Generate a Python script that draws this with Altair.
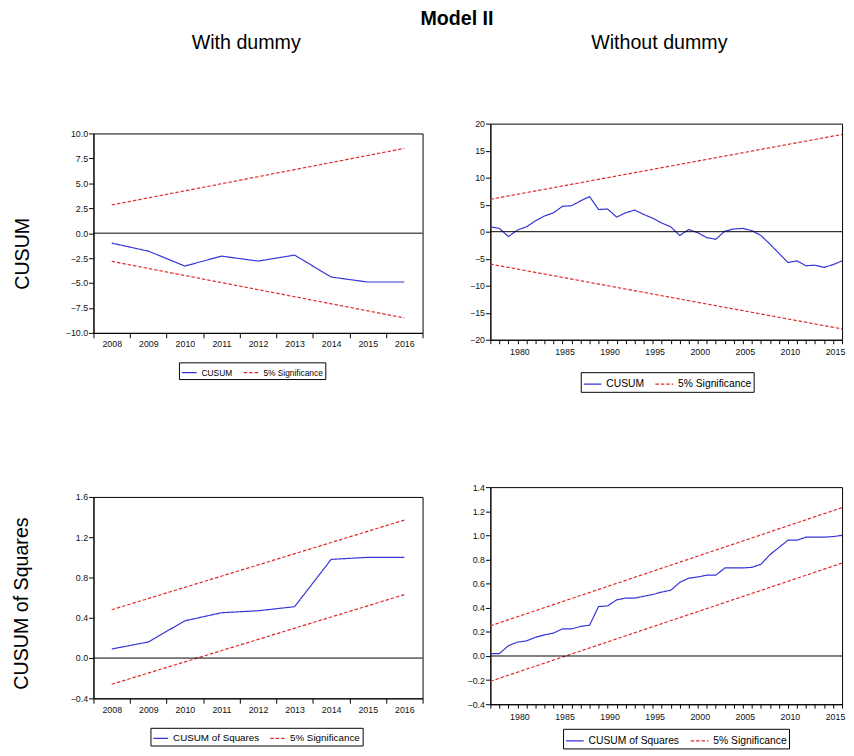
import altair as alt
import pandas as pd

# ---------------- data ----------------
# Top-left: CUSUM, with dummy (annual, 2008-2016)
tl_years = [2008, 2009, 2010, 2011, 2012, 2013, 2014, 2015, 2016]
tl_cusum = [-1.0, -1.8, -3.3, -2.3, -2.8, -2.2, -4.4, -4.9, -4.9]
tl_bound_years = [2008, 2016]
tl_upper = [2.83, 8.5]
tl_lower = [-2.83, -8.5]

# Top-right: CUSUM, without dummy (annual, 1977-2016)
tr_years = list(range(1977, 2017))
tr_cusum = [0.9, 0.6, -0.9, 0.3, 0.9, 2.0, 2.9, 3.5, 4.7, 4.8,
            5.7, 6.5, 4.1, 4.2, 2.7, 3.5, 4.0, 3.2, 2.5, 1.6,
            0.9, -0.7, 0.4, -0.2, -1.1, -1.4, 0.1, 0.5, 0.6, 0.2,
            -0.7, -2.3, -4.0, -5.7, -5.4, -6.3, -6.2, -6.6, -6.1, -5.4]
tr_bound_years = [1977, 2016]
tr_upper = [6.0, 18.0]
tr_lower = [-6.0, -18.0]

# Bottom-left: CUSUM of squares, with dummy
bl_years = [2008, 2009, 2010, 2011, 2012, 2013, 2014, 2015, 2016]
bl_cusumsq = [0.09, 0.16, 0.37, 0.45, 0.47, 0.51, 0.98, 1.0, 1.0]
bl_bound_years = [2008, 2016]
bl_upper = [0.48, 1.37]
bl_lower = [-0.26, 0.63]

# Bottom-right: CUSUM of squares, without dummy
br_years = list(range(1977, 2017))
br_cusumsq = [0.02, 0.02, 0.085, 0.115, 0.125, 0.155, 0.175, 0.19, 0.225, 0.225,
              0.245, 0.255, 0.41, 0.415, 0.465, 0.48, 0.48, 0.495, 0.51, 0.53,
              0.545, 0.61, 0.645, 0.655, 0.67, 0.67, 0.73, 0.73, 0.73, 0.735,
              0.76, 0.84, 0.90, 0.96, 0.96, 0.985, 0.985, 0.985, 0.99, 1.0]
br_bound_years = [1977, 2016]
br_upper = [0.25, 1.23]
br_lower = [-0.21, 0.77]

tl_yticks = [-10.0, -7.5, -5.0, -2.5, 0.0, 2.5, 5.0, 7.5, 10.0]
tr_yticks = [-20, -15, -10, -5, 0, 5, 10, 15, 20]
bl_yticks = [-0.4, 0.0, 0.4, 0.8, 1.2, 1.6]
br_yticks = [-0.4, -0.2, 0.0, 0.2, 0.4, 0.6, 0.8, 1.0, 1.2, 1.4]

col_titles = ["With dummy", "Without dummy"]
row_titles = ["CUSUM", "CUSUM of Squares"]
main_title = "Model II"

SIG = "5% Significance"
BLUE = "#3434d4"
RED = "#e02a2a"
FONT = "Liberation Sans"


def panel(years, values, byears, upper, lower, main_label, categorical,
          width, height, ydomain, yticks, yfmt, ytitle, ytitle_y, ytitle_pad,
          leg_x, leg_y, leg_font, leg_sym, x_label_pad):
    rows = []
    for xv, v in zip(years, values):
        rows.append({"x": xv, "v": v, "s": main_label, "g": "main"})
    for xv, v in zip(byears, upper):
        rows.append({"x": xv, "v": v, "s": SIG, "g": "upper"})
    for xv, v in zip(byears, lower):
        rows.append({"x": xv, "v": v, "s": SIG, "g": "lower"})
    df = pd.DataFrame(rows)
    dom = [main_label, SIG]

    leg = alt.Legend(
        title=None, orient="none", legendX=leg_x, legendY=leg_y,
        direction="horizontal", columns=2, symbolType="stroke",
        symbolSize=leg_sym * leg_sym, symbolStrokeWidth=1.2,
        labelFontSize=leg_font, labelFont=FONT, labelColor="#000",
        strokeColor="#000", fillColor="white", padding=2,
        columnPadding=8, labelOffset=4,
    )

    if categorical:
        x = alt.X(
            "x:O",
            scale=alt.Scale(type="band", paddingInner=0, paddingOuter=0),
            bandPosition=0.5,
            axis=alt.Axis(title=None, labelAngle=0, tickBand="extent",
                          labelPadding=x_label_pad, grid=False),
        )
    else:
        x = alt.X(
            "x:Q",
            scale=alt.Scale(domain=[1977, 2016], nice=False, zero=False),
            axis=alt.Axis(
                title=None, values=list(range(1977, 2017)), format="d",
                labelExpr="datum.value % 5 == 0 ? datum.label : ''",
                labelFlush=False, labelOverlap=False, labelOffset=2,
                tickSize=4, labelPadding=x_label_pad, grid=False,
            ),
        )

    yaxis_kwargs = dict(values=yticks, format=yfmt, labelOverlap=False,
                        grid=False)
    if ytitle:
        yaxis_kwargs.update(
            title=ytitle, titleFontSize=20, titleFont=FONT,
            titleFontWeight="normal", titleColor="#000",
            titlePadding=ytitle_pad, titleY=ytitle_y,
        )
    else:
        yaxis_kwargs.update(title=None)
    yscale = alt.Scale(domain=ydomain, nice=False, zero=False)

    lines = alt.Chart(df).mark_line(strokeWidth=1.2).encode(
        x=x,
        y=alt.Y("v:Q", scale=yscale, axis=alt.Axis(**yaxis_kwargs)),
        color=alt.Color("s:N", scale=alt.Scale(domain=dom, range=[BLUE, RED]),
                        legend=leg),
        strokeDash=alt.StrokeDash("s:N",
                                  scale=alt.Scale(domain=dom, range=[[1, 0], [3.5, 2]]),
                                  legend=leg),
        detail="g:N",
    )
    zero = alt.Chart(pd.DataFrame({"v": [0]})).mark_rule(
        color="#000", strokeWidth=1
    ).encode(y=alt.Y("v:Q", scale=yscale, axis=alt.Axis(**yaxis_kwargs)))

    return alt.layer(lines, zero).properties(width=width, height=height)


def header(text, width, dx):
    return alt.Chart(pd.DataFrame({"t": [text]})).mark_text(
        fontSize=20, font=FONT, color="#000", baseline="middle", dx=dx
    ).encode(text="t:N").properties(
        width=width, height=20, view=alt.ViewBackground(stroke="transparent")
    )


LW = 335
RW = 358

tl = panel(tl_years, tl_cusum, tl_bound_years, tl_upper, tl_lower, "CUSUM", True,
           LW, 203, [-10, 10], tl_yticks, ".1f", row_titles[0], 122, 33,
           87, 233, 8.5, 15, 2)
bl = panel(bl_years, bl_cusumsq, bl_bound_years, bl_upper, bl_lower,
           "CUSUM of Squares", True,
           LW, 205, [-0.4, 1.6], bl_yticks, ".1f", row_titles[1], 108, 39,
           58, 235, 10, 15, 2)
tr = panel(tr_years, tr_cusum, tr_bound_years, tr_upper, tr_lower, "CUSUM", False,
           RW, 220, [-20, 20], tr_yticks, "d", None, 0, 0,
           92, 253, 10.5, 18, 4)
br = panel(br_years, br_cusumsq, br_bound_years, br_upper, br_lower,
           "CUSUM of Squares", False,
           RW, 221, [-0.4, 1.4], br_yticks, ".1f", None, 0, 0,
           74, 246, 10.5, 18, 5)

RES = dict(x="independent", y="independent", color="independent",
           strokeDash="independent")
LEG = dict(color="independent", strokeDash="independent")

left_plots = alt.vconcat(tl, bl, spacing=114).resolve_scale(**RES).resolve_legend(**LEG)
right_plots = alt.vconcat(tr, br, spacing=91).resolve_scale(**RES).resolve_legend(**LEG)

left_col = alt.vconcat(header(col_titles[0], LW, -12), left_plots,
                       spacing=76).resolve_scale(**RES).resolve_legend(**LEG)
right_col = alt.vconcat(header(col_titles[1], RW, -7), right_plots,
                        spacing=66).resolve_scale(**RES).resolve_legend(**LEG)

chart = alt.hconcat(left_col, right_col, spacing=43).resolve_scale(
    **RES
).resolve_legend(
    **LEG
).properties(
    title=alt.TitleParams(main_title, fontSize=20, font=FONT, fontWeight="bold",
                          color="#000", anchor="middle", frame="bounds",
                          offset=4, dx=29),
    padding={"left": 3, "top": -6, "right": 0, "bottom": 0},
    background="white",
).configure_view(
    stroke="#000", strokeWidth=1
).configure_axis(
    domainColor="#000", tickColor="#000", labelColor="#111", labelFont=FONT,
    labelFontSize=9, tickSize=5, labelPadding=1, grid=False,
)

chart.save("out.html", embed_options={"renderer": "svg", "actions": False})
